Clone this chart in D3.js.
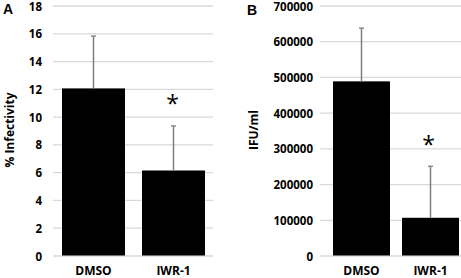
<!DOCTYPE html>
<html>
<head>
<meta charset="utf-8">
<script src="https://cdn.jsdelivr.net/npm/d3@7"></script>
<style>
  body { margin: 0; background: #fff; }
  svg text { font-family: "Open Sans", sans-serif; font-weight: bold; fill: #000; }
</style>
</head>
<body>
<div id="vizcontainer"></div>
<script>
const categories = ['DMSO', 'IWR-1'];

// panel A: % infectivity
const infectMean = [12.03, 6.12];
const infectErr = [3.77, 3.21];
const infectTicks = [0, 2, 4, 6, 8, 10, 12, 14, 16, 18];

// panel B: IFU/ml
const ifuMean = [487600, 105600];
const ifuErr = [149000, 144400];
const ifuTicks = [0, 100000, 200000, 300000, 400000, 500000, 600000, 700000];

const significant = [false, true];

const width = 461,
  height = 278;

let viz = d3.select('#vizcontainer')
  .append('svg')
  .attr('width', width)
  .attr('height', height);

function panel(opt) {
  const y = d3.scaleLinear()
    .domain([0, opt.ticks[opt.ticks.length - 1]])
    .range([255.5, 5.5]);

  const x = d3.scaleBand()
    .domain(categories)
    .range([opt.x0, opt.x1])
    .paddingInner(opt.padIn)
    .paddingOuter(0);

  const rows = categories.map((c, i) => ({
    cat: c, mean: opt.mean[i], err: opt.err[i], sig: significant[i]
  }));
  const cx = d => x(d.cat) + x.bandwidth() / 2;

  const g = viz.append('g');

  // gridlines
  g.append('g')
    .attr('transform', `translate(${opt.gx0},0)`)
    .call(d3.axisLeft(y).tickValues(opt.ticks).tickSize(-(opt.gx1 - opt.gx0)).tickFormat(''))
    .call(a => a.select('.domain').remove())
    .selectAll('line')
    .attr('stroke', '#d9d9d9')
    .attr('stroke-width', 1.3);

  // tick labels
  g.append('g')
    .attr('transform', `translate(${opt.labelX},0)`)
    .call(d3.axisLeft(y).tickValues(opt.ticks).tickSize(0).tickPadding(0).tickFormat(d3.format('d')))
    .call(a => a.select('.domain').remove())
    .selectAll('text')
    .style('font-size', '11.5px')
    .attr('dy', '0.4em');

  // bars
  g.selectAll('rect.bar')
    .data(rows)
    .join('rect')
    .attr('class', 'bar')
    .attr('x', d => x(d.cat))
    .attr('y', d => y(d.mean))
    .attr('width', x.bandwidth())
    .attr('height', d => y(0) - y(d.mean))
    .attr('fill', '#000');

  // error bars (upper only)
  const eb = g.selectAll('g.err')
    .data(rows)
    .join('g')
    .attr('class', 'err');
  eb.append('line')
    .attr('x1', cx)
    .attr('x2', cx)
    .attr('y1', d => y(d.mean))
    .attr('y2', d => y(d.mean + d.err))
    .attr('stroke', '#7f7f7f')
    .attr('stroke-width', 1.5);
  eb.append('line')
    .attr('x1', d => cx(d) - 2.5)
    .attr('x2', d => cx(d) + 2.5)
    .attr('y1', d => y(d.mean + d.err))
    .attr('y2', d => y(d.mean + d.err))
    .attr('stroke', '#7f7f7f')
    .attr('stroke-width', 1.3);

  // significance stars
  g.selectAll('text.star')
    .data(rows.filter(d => d.sig))
    .join('text')
    .attr('class', 'star')
    .attr('x', d => cx(d) + opt.starDx)
    .attr('y', opt.starY)
    .attr('text-anchor', 'middle')
    .style('font-size', '23px')
    .style('font-weight', 'normal')
    .text('*');

  // category labels
  g.selectAll('text.cat')
    .data(categories)
    .join('text')
    .attr('class', 'cat')
    .attr('x', d => x(d) + x.bandwidth() / 2)
    .attr('y', 274.5)
    .attr('text-anchor', 'middle')
    .style('font-size', '12px')
    .text(d => d);

  // y title
  g.append('text')
    .attr('transform', `translate(${opt.titleX},${opt.titleY}) rotate(-90)`)
    .attr('text-anchor', 'middle')
    .style('font-size', '12px')
    .text(opt.title);

  // panel letter
  g.append('text')
    .attr('x', opt.letterX)
    .attr('y', opt.letterY)
    .style('font-size', '14px')
    .style('font-family', 'Arial, "Liberation Sans", sans-serif')
    .text(opt.letter);
}

panel({
  mean: infectMean, err: infectErr, ticks: infectTicks,
  x0: 62, x1: 205, padIn: 0.2125,
  gx0: 53, gx1: 213, labelX: 42,
  starDx: -1, starY: 112,
  title: '% Infectivity', titleX: 14, titleY: 130,
  letter: 'A', letterX: 3, letterY: 14
});

panel({
  mean: ifuMean, err: ifuErr, ticks: ifuTicks,
  x0: 333, x1: 459, padIn: 0.174,
  gx0: 320, gx1: 461, labelX: 313,
  starDx: -2, starY: 153,
  title: 'IFU/ml', titleX: 258, titleY: 130,
  letter: 'B', letterX: 247, letterY: 15
});
</script>
</body>
</html>
